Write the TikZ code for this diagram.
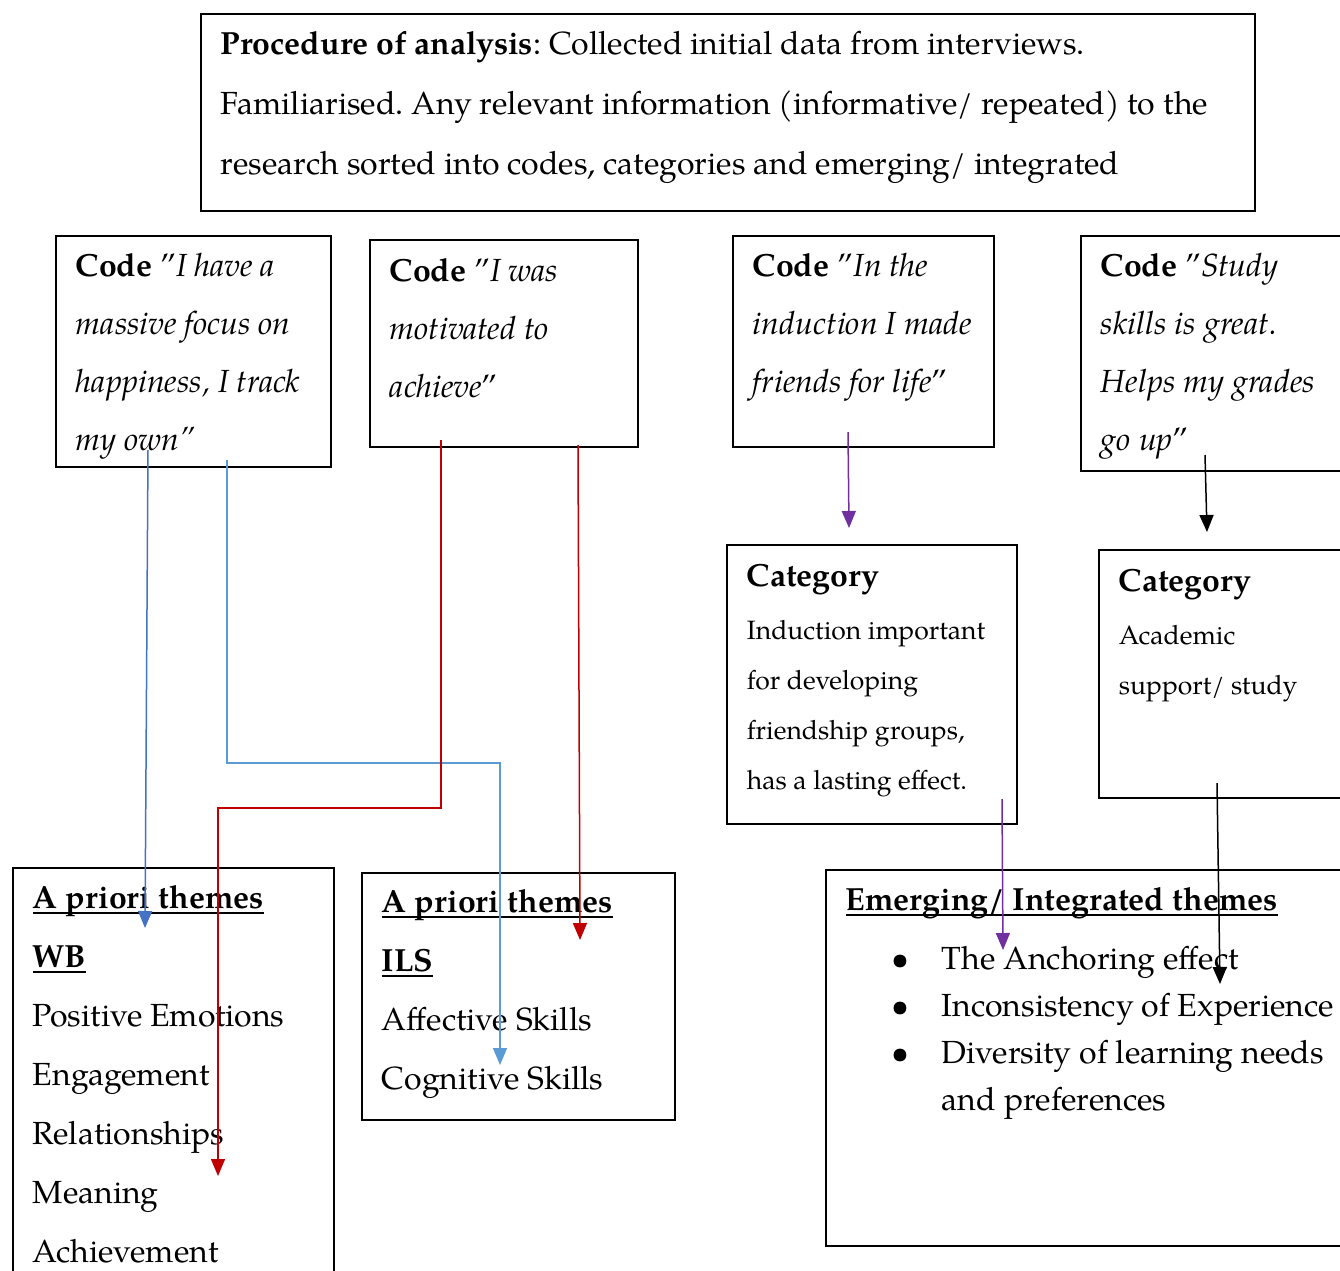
\documentclass[tikz,border=0pt]{standalone}
\usepackage{fontspec}
\setmainfont{TeX Gyre Pagella}
\usepackage{tikz}
\usetikzlibrary{arrows.meta,positioning,calc}
\definecolor{dkblue}{RGB}{68,114,196}
\definecolor{ltblue}{RGB}{91,155,213}
\definecolor{codered}{RGB}{192,0,0}
\definecolor{catpurple}{RGB}{112,48,160}
\frenchspacing
% text block of a box: width, height, first baseline, lines
\newcommand{\boxtext}[4]{\parbox[t][#2][t]{#1}{\raggedright\rule{0pt}{#3}#4}}
% word style underline that runs through the descenders
\newcommand{\undl}[1]{\leavevmode\setbox0=\hbox{#1}\rlap{\rule[-5pt]{\wd0}{2pt}}\box0}
\tikzset{
  box/.style={draw, line width=1.8pt, anchor=north west, inner xsep=20pt, inner ysep=0pt},
  body/.style={font=\fontsize{32}{58}\selectfont},
  small/.style={font=\fontsize{26.5}{50}\selectfont},
  link/.style={line width=1.5pt, -{Triangle[length=17pt,width=14pt]}},
}
\begin{document}
\begin{tikzpicture}[x=1pt, y=-1pt]
    \useasboundingbox (0,0) rectangle (1340,1270);
    % --- procedure box ---
    \node[box, font=\fontsize{32}{60}\selectfont] (proc) at (200,13) {\boxtext{1014pt}{197pt}{41pt}{%
      \textbf{Procedure of analysis}: Collected initial data from interviews.\\
      Familiarised. Any relevant information (informative/ repeated) to the\\
      research sorted into codes, categories and emerging/ integrated}};
    % --- codes ---
    \node[box, body] (code1) at (55,235) {\boxtext{235pt}{231pt}{41pt}{%
      \textbf{Code} "\textit{I have a}\\
      \textit{massive focus on}\\
      \textit{happiness, I track}\\
      \textit{my own”}}};
    \node[box, body] (code2) at (369,239) {\boxtext{228pt}{207pt}{42pt}{%
      \textbf{Code} "\textit{I was}\\
      \textit{motivated to}\\
      \textit{achieve}"}};
    \node[box, body] (code3) at (732,235) {\boxtext{221pt}{211pt}{41pt}{%
      \textbf{Code} "\textit{In the}\\
      \textit{induction I made}\\
      \textit{friends for life}"}};
    \node[box, body] (code4) at (1080,235) {\boxtext{260pt}{235pt}{41pt}{%
      \textbf{Code} "\textit{Study}\\
      \textit{skills is great.}\\
      \textit{Helps my grades}\\
      \textit{go up}"}};
    % --- categories ---
    \node[box, small] (cat1) at (726,544) {\boxtext{250pt}{279pt}{42pt}{%
      {\fontsize{32}{50}\selectfont\textbf{Category}}\\[3pt]
      Induction important\\
      for developing\\
      friendship groups,\\
      has a lasting effect.}};
    \node[box, small] (cat2) at (1098,549) {\boxtext{242pt}{248pt}{42pt}{%
      {\fontsize{32}{50}\selectfont\textbf{Category}}\\[3pt]
      Academic\\
      support/ study}};
    % --- themes ---
    \node[box, font=\fontsize{32}{59}\selectfont] (wb) at (12,867) {\boxtext{281pt}{433pt}{41pt}{%
      \undl{\textbf{A priori themes}}\\
      \undl{\textbf{WB}}\\
      Positive Emotions\\
      Engagement\\
      Relationships\\
      Meaning\\
      Achievement}};
    \node[box, font=\fontsize{32}{59}\selectfont] (ils) at (361,872) {\boxtext{273pt}{247pt}{40pt}{%
      \undl{\textbf{A priori themes}}\\
      \undl{\textbf{ILS}}\\
      Affective Skills\\
      Cognitive Skills}};
    \node[box, font=\fontsize{32}{47}\selectfont] (emerg) at (825,869) {\boxtext{515pt}{376pt}{41pt}{%
      \undl{\textbf{Emerging/ Integrated themes}}\\[12pt]
      \hspace*{46pt}\makebox[50pt][l]{\textbullet}The Anchoring effect\\
      \hspace*{46pt}\makebox[50pt][l]{\textbullet}Inconsistency of Experience\\
      \hspace*{46pt}\makebox[50pt][l]{\textbullet}Diversity of learning needs\\
      \hspace*{96pt}and preferences}};
    % --- arrow ends ---
    \coordinate (c1a) at (148,450);  \coordinate (wbA) at (145,928);
    \coordinate (c1b) at (227,460);  \coordinate (ltbend) at (500,763);  \coordinate (ilsB) at (500,1065);
    \coordinate (c2a) at (441,440);  \coordinate (redbend) at (218,808); \coordinate (wbB) at (218,1176);
    \coordinate (c2b) at (578,445);  \coordinate (ilsA) at (580,940);
    \coordinate (c3a) at (848,432);  \coordinate (cat1in) at (849,528);
    \coordinate (c4a) at (1205,455); \coordinate (cat2in) at (1207,532);
    \coordinate (cat1out) at (1002,799); \coordinate (emA) at (1003,950);
    \coordinate (cat2out) at (1217,783); \coordinate (emB) at (1220,984);
    % --- arrows ---
    \draw[link, dkblue] (c1a) -- (wbA);
    \draw[link, ltblue] (c1b) |- (ltbend) -- (ilsB);
    \draw[link, codered] (c2a) |- (redbend) -- (wbB);
    \draw[link, codered] (c2b) -- (ilsA);
    \draw[link, catpurple] (c3a) -- (cat1in);
    \draw[link, black] (c4a) -- (cat2in);
    \draw[link, catpurple] (cat1out) -- (emA);
    \draw[link, black] (cat2out) -- (emB);
\end{tikzpicture}
\end{document}
